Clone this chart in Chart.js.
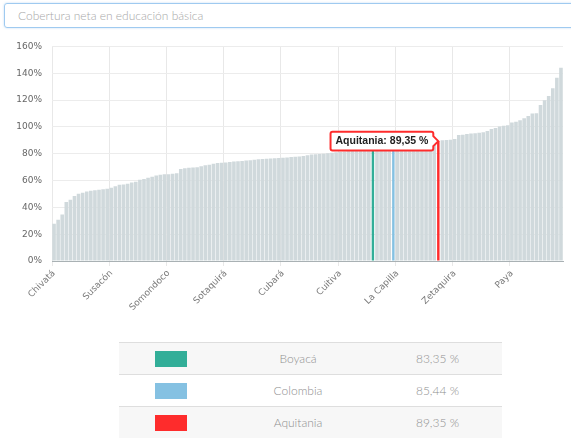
<!DOCTYPE html>
<html>
<head>
<meta charset="utf-8">
<script src="https://cdn.jsdelivr.net/npm/chart.js@4.4.1/dist/chart.umd.min.js"></script>
<style>
    html, body { margin: 0; padding: 0; background: #fff; }
    body { width: 571px; height: 440px; position: relative; overflow: hidden; font-family: Lato, sans-serif; }
    .selector {
        position: absolute; left: 4px; top: 3px; width: 580px; height: 25px;
        border: 1px solid #9fcaf0; border-radius: 3px; box-sizing: border-box;
        box-shadow: 0 0 2px rgba(120, 180, 235, 0.5);
        color: #a7a7a7; font-size: 12px; font-weight: 300; line-height: 23px; padding-left: 13px;
    }
    .chart-box { position: absolute; left: 0; top: 31px; width: 571px; height: 299px; }
    table.legend {
        position: absolute; left: 119px; top: 342px; width: 383px;
        border-collapse: collapse; font-size: 12px; font-weight: 300; color: #8f8f8f;
    }
    table.legend td { height: 31px; padding: 0; text-align: center; border-top: 1px solid #dedede; }
    table.legend tr:nth-child(odd) td { background: #f7f7f7; }
    table.legend td.sw { width: 104px; }
    table.legend td.name { width: 150px; }
    .swatch { display: inline-block; width: 32px; height: 16px; vertical-align: middle; }
</style>
</head>
<body>
<div class="selector">Cobertura neta en educación básica</div>
<div class="chart-box"><canvas id="chartCobertura"></canvas></div>
<table class="legend" id="legendTable"></table>

<script>
// municipios ordenados por cobertura (incluye Boyacá y Colombia como referencia)
const municipios = [
    'Chivatá', 'Pisba', 'Labranzagrande', 'Chiscas', 'Quípama', 'Paya', 'Pajarito', 'Chita', 'Socotá', 'Cubará',
    'Tununguá', 'Coper', 'San Pablo de Borbur', 'Maripí', 'Susacón', 'Tutazá', 'Briceño', 'Otanche', 'Jericó', 'Muzo',
    'Sativanorte', 'Pauna', 'Güicán', 'El Espino', 'Panqueba', 'Guacamayas', 'Betéitiva', 'Covarachía', 'Somondoco', 'Rondón',
    'San Eduardo', 'Berbeo', 'Buenavista', 'Santa María', 'San Mateo', 'La Victoria', 'Zetaquira', 'Campohermoso', 'Almeida', 'Chinavita',
    'Tota', 'Cuitiva', 'Sotaquirá', 'Tipacoque', 'Boavita', 'Mongua', 'Sativasur', 'Gámeza', 'Tasco', 'Pachavita',
    'Macanal', 'Chivor', 'Santana', 'Gachantivá', 'Tinjacá', 'Sutatenza', 'Cubará', 'San Luis de Gaceno', 'Ciénega', 'Viracachá',
    'Siachoque', 'Toca', 'Chíquiza', 'Motavita', 'Oicatá', 'Cucaita', 'Soracá', 'Pesca', 'Rondón', 'Páez',
    'Cuitiva', 'Úmbita', 'Tibaná', 'Ráquira', 'Sáchica', 'Sutamarchán', 'Arcabuco', 'Chitaraque', 'Boyacá', 'Santa Sofía',
    'San José de Pare', 'Togüí', 'Caldas', 'Colombia', 'La Capilla', 'Saboyá', 'San Miguel de Sema', 'Ventaquemada', 'Jenesano', 'Turmequé',
    'Nuevo Colón', 'Tenza', 'Guateque', 'Guayatá', 'Aquitania', 'Cómbita', 'Tuta', 'Samacá', 'Zetaquira', 'Iza',
    'Firavitoba', 'Cerinza', 'Belén', 'Floresta', 'Busbanzá', 'Corrales', 'Tópaga', 'Monguí', 'Nobsa', 'Tibasosa',
    'Paz de Río', 'Socha', 'Paya', 'Soatá', 'La Uvita', 'El Cocuy', 'Santa Rosa de Viterbo', 'Miraflores', 'Ramiriquí', 'Garagoa',
    'Moniquirá', 'Paipa', 'Villa de Leyva', 'Chiquinquirá', 'Puerto Boyacá'
];

const cobertura = [
    27.8, 30.7, 34.7, 43.9, 45.6, 48.5, 50.2, 50.9, 51.8, 52.3,
    52.7, 53.1, 53.5, 53.9, 54.7, 55.8, 56.8, 57.0, 57.6, 58.5,
    59.1, 60.6, 61.2, 62.0, 62.8, 63.7, 64.3, 64.6, 64.7, 65.0,
    65.5, 68.6, 69.2, 69.5, 69.8, 69.9, 70.6, 71.4, 71.8, 72.6,
    73.0, 73.2, 73.4, 73.9, 74.2, 74.4, 74.6, 75.0, 75.2, 75.4,
    75.8, 76.0, 76.2, 76.4, 76.6, 76.8, 77.0, 77.1, 77.6, 77.8,
    78.0, 78.2, 78.8, 79.4, 79.6, 79.8, 80.0, 80.4, 80.8, 81.1,
    81.4, 81.7, 82.0, 82.3, 82.6, 82.8, 83.0, 83.2, 83.35, 83.6,
    84.0, 84.5, 85.0, 85.44, 85.8, 86.2, 86.6, 87.0, 87.4, 87.8,
    88.2, 88.5, 88.8, 89.1, 89.35, 90.1, 90.2, 90.4, 91.0, 93.9,
    94.2, 94.6, 95.0, 95.2, 95.6, 95.9, 97.0, 98.4, 99.1, 100.3,
    100.8, 101.3, 103.3, 103.8, 105.0, 106.5, 108.2, 110.0, 110.2, 116.4,
    119.9, 123.1, 128.8, 136.7, 144.1
];

// etiquetas visibles del eje x (una cada 14 barras)
const tickLabels = ['Chivatá', 'Susacón', 'Somondoco', 'Sotaquirá', 'Cubará', 'Cuitiva', 'La Capilla', 'Zetaquira', 'Paya'];
const tickEvery = 14;

const yTicks = [0, 20, 40, 60, 80, 100, 120, 140, 160];

// series resaltadas
const destacados = ['Boyacá', 'Colombia', 'Aquitania'];
const destacadosIndex = [78, 83, 94];
const destacadosColor = ['#32ae98', '#85c1e2', '#fe2c2c'];
const seleccionado = 'Aquitania';

function formatPct(v) {
    return v.toFixed(2).replace('.', ',') + ' %';
}

const baseData = cobertura.map((v, i) => destacadosIndex.includes(i) ? null : v);
const highlightData = cobertura.map((v, i) => destacadosIndex.includes(i) ? v : null);
const highlightColors = cobertura.map((v, i) => {
    const k = destacadosIndex.indexOf(i);
    return k >= 0 ? destacadosColor[k] : 'transparent';
});

const axisFont = { family: 'DejaVu Sans', size: 9 };

const chart = new Chart(document.getElementById('chartCobertura'), {
    type: 'bar',
    data: {
        labels: municipios,
        datasets: [{
            data: baseData,
            backgroundColor: '#d0d9dc',
            barPercentage: 0.88,
            categoryPercentage: 1,
            grouped: false,
        }, {
            data: highlightData,
            backgroundColor: highlightColors,
            barPercentage: 0.6,
            categoryPercentage: 1,
            grouped: false,
        }],
    },
    options: {
        responsive: true,
        maintainAspectRatio: false,
        animation: false,
        events: [],
        layout: { padding: { top: 0, right: 8, left: 0, bottom: 0 } },
        plugins: {
            legend: { display: false },
            tooltip: {
                enabled: true,
                backgroundColor: '#ffffff',
                borderColor: '#fe2c2c',
                borderWidth: 2,
                cornerRadius: 2,
                displayColors: false,
                xAlign: 'right',
                yAlign: 'center',
                caretSize: 5,
                caretPadding: 0,
                padding: { x: 5, y: 3 },
                bodyColor: '#222',
                bodyFont: { family: 'Liberation Sans', size: 10.5, weight: 'bold' },
                callbacks: {
                    title: () => '',
                    label: (ctx) => ctx.label + ': ' + formatPct(ctx.raw),
                },
            },
        },
        scales: {
            x: {
                offset: true,
                afterFit: (scale) => { scale.height = 69; },
                grid: {
                    offset: true,
                    color: (ctx) => (ctx.index % tickEvery === 0 ? '#e8e8e8' : 'transparent'),
                    tickLength: 5,
                },
                border: { color: '#a9b1b4', width: 1 },
                ticks: {
                    autoSkip: false,
                    minRotation: 45,
                    maxRotation: 45,
                    padding: 2,
                    color: '#7a7a7a',
                    font: axisFont,
                    callback: (value, index) => (index % tickEvery === 0 ? tickLabels[index / tickEvery] : ''),
                },
            },
            y: {
                min: 0,
                max: 160,
                afterFit: (scale) => { scale.width = 52; },
                afterBuildTicks: (scale) => { scale.ticks = yTicks.map((v) => ({ value: v })); },
                grid: { color: '#ececec', drawTicks: false },
                border: { display: false },
                ticks: {
                    padding: 10,
                    color: '#666',
                    font: axisFont,
                    callback: (v) => v + '%',
                },
            },
        },
    },
});

const selIdx = destacadosIndex[destacados.indexOf(seleccionado)];
chart.tooltip.setActiveElements([{ datasetIndex: 1, index: selIdx }], { x: 0, y: 0 });
chart.update();

// tabla de referencia
const table = document.getElementById('legendTable');
destacados.forEach((name, k) => {
    const tr = document.createElement('tr');
    tr.innerHTML = '<td class="sw"><span class="swatch" style="background:' + destacadosColor[k] + '"></span></td>' +
        '<td class="name">' + name + '</td>' +
        '<td>' + formatPct(cobertura[destacadosIndex[k]]) + '</td>';
    table.appendChild(tr);
});
</script>
</body>
</html>
